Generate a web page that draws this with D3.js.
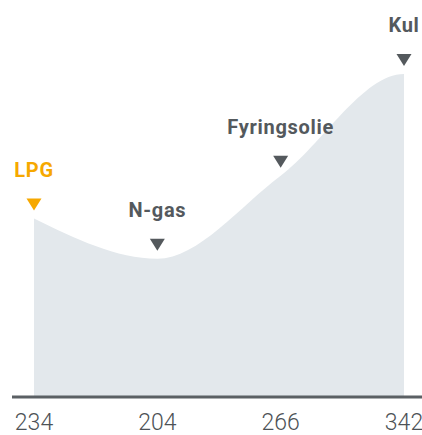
<!DOCTYPE html>
<html>
<head>
<meta charset="utf-8">
<script src="https://cdn.jsdelivr.net/npm/d3@7"></script>
<style>
  html, body { margin: 0; padding: 0; background: #fff; }
  svg { display: block; }
</style>
</head>
<body>
<div id="chart"></div>
<script>
// data
var fuels = ["LPG", "N-gas", "Fyringsolie", "Kul"];
var values = [234, 204, 266, 342];
var valueLabels = ["234", "204", "266", "342"];
var highlight = ["LPG"];

var w = 422;
var h = 435;
var baseY = 396;

var svg = d3.select("#chart").append("svg").attr("width", w).attr("height", h);

var xScale = d3.scalePoint().domain(fuels).range([34, 404]);
var yScale = d3.scaleLinear().domain([101.4, 342]).range([baseY, 74]);

var data = fuels.map(function(f, i) {
    return { fuel: f, value: values[i], label: valueLabels[i] };
});

// monotone curve that levels off at its last point (the top flattens at Kul)
function flatEndCurve(context) {
    var inner = d3.curveMonotoneX(context);
    var last = null;
    return {
        areaStart: function() { inner.areaStart(); },
        areaEnd: function() { inner.areaEnd(); },
        lineStart: function() { last = null; inner.lineStart(); },
        lineEnd: function() {
            if (last) inner.point(last[0] + 1e-6, last[1]);
            inner.lineEnd();
        },
        point: function(x, y) { last = [x, y]; inner.point(x, y); }
    };
}

// area under the curve
var area = d3.area()
    .x(function(d) { return xScale(d.fuel); })
    .y0(baseY)
    .y1(function(d) { return yScale(d.value); })
    .curve(flatEndCurve);

svg.append("path")
    .datum(data)
    .attr("d", area)
    .attr("fill", "#e3e8ec");

// base line
svg.append("line")
    .attr("x1", 12).attr("x2", w)
    .attr("y1", baseY + 1).attr("y2", baseY + 1)
    .attr("stroke", "#5b6064")
    .attr("stroke-width", 3);

function colorOf(d) {
    return highlight.indexOf(d.fuel) >= 0 ? "#f6a800" : "#54595d";
}

// marker triangles
svg.selectAll(".marker")
    .data(data)
    .enter()
    .append("path")
    .attr("class", "marker")
    .attr("d", function(d) {
        var x = xScale(d.fuel), y = yScale(d.value) - 8;
        return "M" + (x - 7.5) + "," + (y - 12) + "L" + (x + 7.5) + "," + (y - 12) + "L" + x + "," + y + "Z";
    })
    .attr("fill", colorOf);

// fuel names
svg.selectAll(".name")
    .data(data)
    .enter()
    .append("text")
    .attr("class", "name")
    .attr("x", function(d) { return xScale(d.fuel); })
    .attr("y", function(d) { return yScale(d.value) - 42; })
    .attr("text-anchor", "middle")
    .style("font-family", "Roboto, sans-serif")
    .style("font-weight", "700")
    .style("font-size", "20px")
    .style("letter-spacing", "0.7px")
    .style("fill", colorOf)
    .text(function(d) { return d.fuel; });

// values under the axis
svg.selectAll(".val")
    .data(data)
    .enter()
    .append("text")
    .attr("class", "val")
    .attr("x", function(d) { return xScale(d.fuel); })
    .attr("y", 430)
    .attr("text-anchor", "middle")
    .style("font-family", "Roboto, sans-serif")
    .style("font-weight", "300")
    .style("font-size", "23px")
    .style("fill", "#4d5256")
    .text(function(d) { return d.label; });
</script>
</body>
</html>
